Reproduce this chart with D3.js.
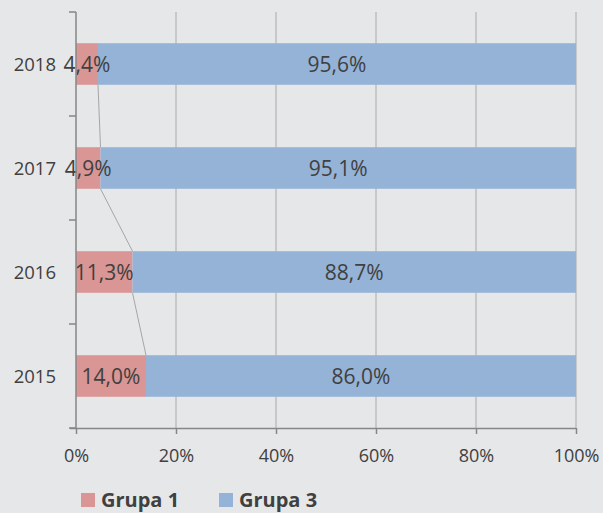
<!DOCTYPE html>
<html>
<head>
<meta charset="utf-8">
<script src="https://cdn.jsdelivr.net/npm/d3@7"></script>
<style>
  body { margin: 0; background: #e6e7e9; }
  svg { display: block; font-family: "Open Sans", sans-serif; }
</style>
</head>
<body>
<div id="chart"></div>
<script>
var years = ["2018", "2017", "2016", "2015"];
var grupa1 = [4.4, 4.9, 11.3, 14.0];
var grupa3 = [95.6, 95.1, 88.7, 86.0];
var seriesNames = ["Grupa 1", "Grupa 3"];
var colors = ["#d99694", "#95b3d7"];
var xTicks = [0, 20, 40, 60, 80, 100];

var w = 603, h = 513;
var svg = d3.select("#chart").append("svg")
    .attr("width", w)
    .attr("height", h);

svg.append("rect").attr("width", w).attr("height", h).attr("fill", "#e6e7e9");

var x = d3.scaleLinear().domain([0, 100]).range([76, 576]);
var y = d3.scaleBand().domain(years).range([12, 428]).paddingInner(0.6).paddingOuter(0.3);

var fmt = function (v) { return v.toFixed(1).replace(".", ",") + "%"; };

// gridlines
svg.append("g").selectAll("line")
    .data(xTicks.slice(1))
    .enter().append("line")
    .attr("x1", function (d) { return x(d); })
    .attr("x2", function (d) { return x(d); })
    .attr("y1", 12)
    .attr("y2", 428)
    .attr("stroke", "#b4b4b4")
    .attr("stroke-width", 1.2);

var rows = years.map(function (yr, i) {
    return {year: yr, a: grupa1[i], b: grupa3[i]};
});

// bars
var bars = svg.append("g");
bars.selectAll(".g1")
    .data(rows)
    .enter().append("rect")
    .attr("x", x(0))
    .attr("y", function (d) { return y(d.year); })
    .attr("width", function (d) { return x(d.a) - x(0); })
    .attr("height", y.bandwidth())
    .attr("fill", colors[0]);
bars.selectAll(".g3")
    .data(rows)
    .enter().append("rect")
    .attr("x", function (d) { return x(d.a); })
    .attr("y", function (d) { return y(d.year); })
    .attr("width", function (d) { return x(d.a + d.b) - x(d.a); })
    .attr("height", y.bandwidth())
    .attr("fill", colors[1]);

// series lines between Grupa 1 ends
var sl = svg.append("g");
for (var i = 0; i < rows.length - 1; i++) {
    sl.append("line")
        .attr("x1", x(rows[i].a))
        .attr("y1", y(rows[i].year) + y.bandwidth())
        .attr("x2", x(rows[i + 1].a))
        .attr("y2", y(rows[i + 1].year))
        .attr("stroke", "#a6a6a6")
        .attr("stroke-width", 1);
}

// data labels
var lab = svg.append("g").attr("fill", "#404040").attr("font-size", 21).attr("text-anchor", "middle");
lab.selectAll(".l1")
    .data(rows)
    .enter().append("text")
    .attr("x", function (d) { return (x(0) + x(d.a)) / 2; })
    .attr("y", function (d) { return y(d.year) + y.bandwidth() / 2; })
    .attr("dy", "0.36em")
    .text(function (d) { return fmt(d.a); });
lab.selectAll(".l3")
    .data(rows)
    .enter().append("text")
    .attr("x", function (d) { return (x(d.a) + x(d.a + d.b)) / 2; })
    .attr("y", function (d) { return y(d.year) + y.bandwidth() / 2; })
    .attr("dy", "0.36em")
    .text(function (d) { return fmt(d.b); });

// x axis
var xAxis = svg.append("g")
    .attr("transform", "translate(0,428)")
    .call(d3.axisBottom(x).tickValues(xTicks).tickSize(6).tickPadding(15)
        .tickFormat(function (d) { return d + "%"; }));
xAxis.select(".domain").attr("d", "M70,0.5H576").attr("stroke", "#868686").attr("stroke-width", 1.5);
xAxis.selectAll(".tick line").attr("stroke", "#868686").attr("stroke-width", 1.5);
xAxis.selectAll("text").attr("font-size", 18).attr("fill", "#404040").attr("font-family", "'Open Sans', sans-serif");

// y axis
var yAxisG = svg.append("g");
yAxisG.append("line")
    .attr("x1", 76).attr("x2", 76).attr("y1", 12).attr("y2", 428)
    .attr("stroke", "#868686").attr("stroke-width", 1.5);
var step = y.step();
var bounds = d3.range(years.length + 1).map(function (k) { return 12 + k * step; });
yAxisG.selectAll(".yt")
    .data(bounds)
    .enter().append("line")
    .attr("x1", 69).attr("x2", 76)
    .attr("y1", function (d) { return d; })
    .attr("y2", function (d) { return d; })
    .attr("stroke", "#868686").attr("stroke-width", 1.5);
yAxisG.selectAll(".yl")
    .data(years)
    .enter().append("text")
    .attr("x", 56)
    .attr("y", function (d) { return y(d) + y.bandwidth() / 2; })
    .attr("dy", "0.36em")
    .attr("text-anchor", "end")
    .attr("font-size", 18.5)
    .attr("fill", "#404040")
    .text(function (d) { return d; });

// legend
var leg = svg.append("g").attr("transform", "translate(81,493)");
var legX = [0, 138];
seriesNames.forEach(function (name, k) {
    var g = leg.append("g").attr("transform", "translate(" + legX[k] + ",0)");
    g.append("rect").attr("width", 14).attr("height", 14).attr("fill", colors[k]);
    g.append("text").attr("x", 20).attr("y", 14)
        .attr("font-size", 20).attr("font-weight", "bold").attr("fill", "#404040")
        .text(name);
});
</script>
</body>
</html>
